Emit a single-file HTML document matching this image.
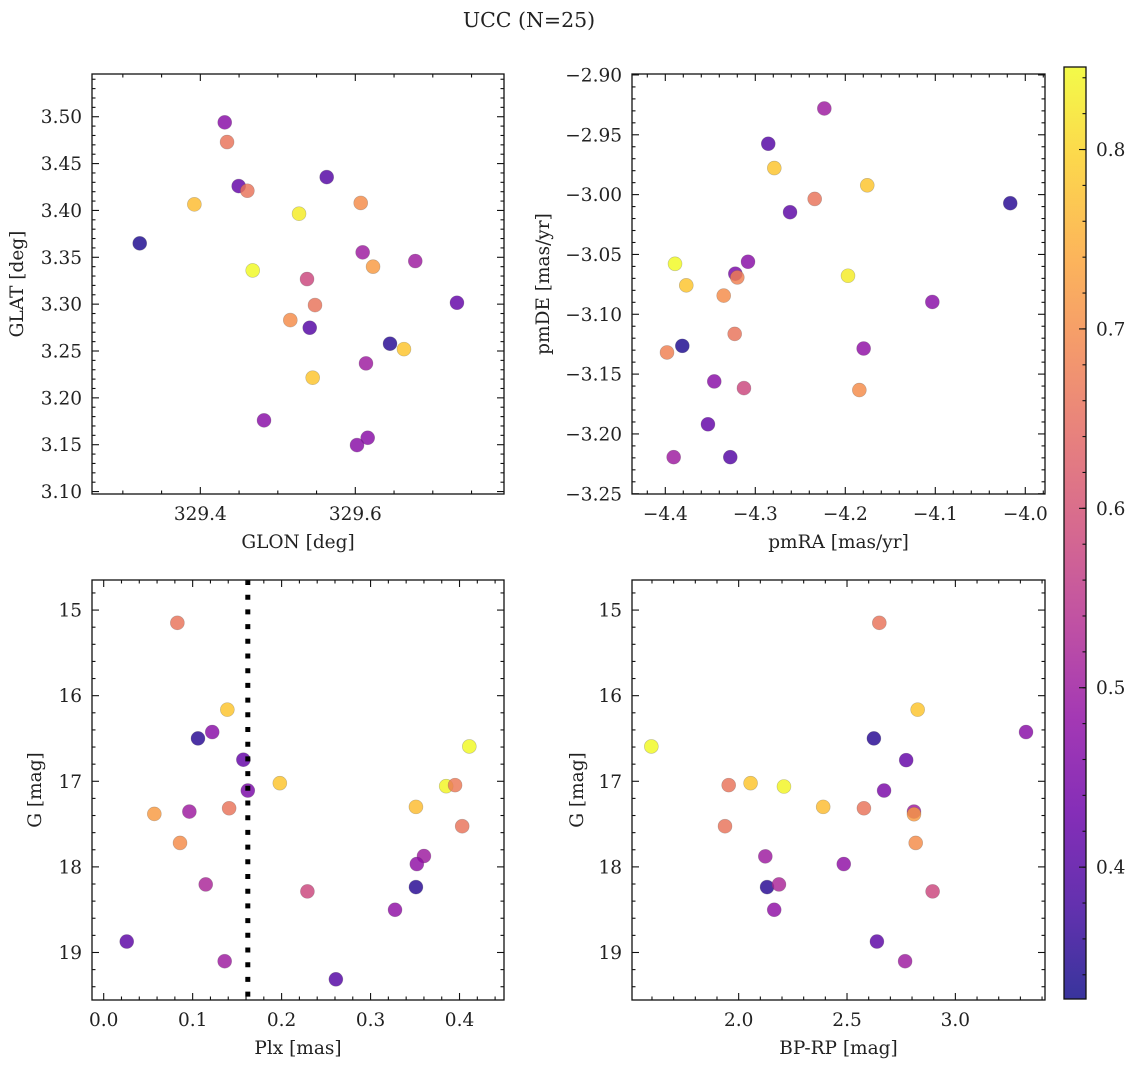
<!DOCTYPE html>
<html><head><meta charset="utf-8"><style>
html,body{margin:0;padding:0;background:#fff;}
svg{display:block;font-family:"DejaVu Serif","Liberation Serif",serif;}
</style></head><body>
<svg id="fig" width="1136" height="1067" viewBox="0 0 1136 1067" xmlns="http://www.w3.org/2000/svg">
<rect width="1136" height="1067" fill="#fff"/>
<text x="529" y="27" font-size="20.5" text-anchor="middle" fill="#222">UCC (N=25)</text>
</svg>
<script>
// ---- data ----
const glonValues = [329.4315,329.4345,329.4495,329.4607,329.3923,329.5631,329.607,329.5274,329.3218,329.4676,329.6095,329.6229,329.6774,329.5377,329.548,329.7312,329.5161,329.5412,329.6448,329.6628,329.6138,329.545,329.4822,329.616,329.6022];
const glatValues = [3.494,3.473,3.426,3.421,3.4065,3.4356,3.408,3.3965,3.3649,3.336,3.3553,3.340,3.346,3.3268,3.299,3.3015,3.283,3.2748,3.2578,3.252,3.2368,3.2215,3.176,3.1574,3.1496];
const posColors = [0.47,0.66,0.42,0.66,0.77,0.40,0.70,0.83,0.34,0.85,0.50,0.72,0.50,0.58,0.66,0.42,0.70,0.40,0.35,0.78,0.50,0.78,0.47,0.47,0.47];

const pmraValues = [-4.2233,-4.2856,-4.2789,-4.1756,-4.234,-4.0167,-4.2614,-4.3892,-4.3081,-4.3222,-4.32,-4.197,-4.3767,-4.3351,-4.1033,-4.3229,-4.3811,-4.3981,-4.1796,-4.3456,-4.3126,-4.1844,-4.3526,-4.3907,-4.3278];
const pmdeValues = [-2.928,-2.9575,-2.9778,-2.9922,-3.0036,-3.0072,-3.0147,-3.0578,-3.0561,-3.0661,-3.0692,-3.0678,-3.0758,-3.0844,-3.0897,-3.1164,-3.1264,-3.1319,-3.1286,-3.1561,-3.1617,-3.1633,-3.1919,-3.2194,-3.2194];
const pmColors = [0.50,0.40,0.78,0.78,0.66,0.35,0.41,0.85,0.47,0.45,0.68,0.83,0.78,0.70,0.47,0.66,0.34,0.68,0.48,0.47,0.58,0.70,0.42,0.50,0.40];

const plxValues = [0.0828,0.139,0.106,0.122,0.157,0.162,0.198,0.411,0.385,0.395,0.351,0.403,0.0569,0.0963,0.141,0.0858,0.360,0.352,0.351,0.1147,0.229,0.3275,0.0259,0.136,0.261];
const gPlxValues = [15.149,16.163,16.499,16.425,16.748,17.108,17.022,16.593,17.057,17.045,17.299,17.525,17.381,17.354,17.315,17.72,17.873,17.967,18.236,18.205,18.286,18.501,18.872,19.102,19.313];
const plxColors = [0.66,0.78,0.35,0.47,0.42,0.45,0.78,0.85,0.84,0.67,0.77,0.66,0.72,0.50,0.66,0.70,0.50,0.48,0.35,0.52,0.58,0.48,0.41,0.50,0.40];
const plxCut = [0.162];

const bprpValues = [2.649,2.826,2.624,3.326,2.773,2.671,1.597,1.954,2.055,2.209,2.390,2.578,2.809,2.809,1.937,2.817,2.123,2.485,2.131,2.186,2.895,2.164,2.638,2.768];
const gCmdValues = [15.149,16.163,16.499,16.425,16.753,17.108,16.593,17.045,17.022,17.061,17.299,17.315,17.354,17.385,17.525,17.72,17.877,17.967,18.236,18.205,18.286,18.501,18.872,19.102];
const cmdColors = [0.66,0.78,0.35,0.47,0.42,0.45,0.85,0.66,0.78,0.84,0.77,0.66,0.50,0.72,0.66,0.70,0.50,0.48,0.35,0.52,0.58,0.48,0.41,0.50];

const cbarTicks = [0.4,0.5,0.6,0.7,0.8];
const cbarRange = [0.3265,0.846];

// ---- rendering ----
const NS="http://www.w3.org/2000/svg";
const svg=document.getElementById('fig');
function mk(tag,attrs,parent){const e=document.createElementNS(NS,tag);for(const k in attrs)e.setAttribute(k,attrs[k]);(parent||svg).appendChild(e);return e;}
const plasma=[[13,8,135],[65,4,157],[106,0,168],[143,13,164],[177,42,144],[204,71,120],[225,100,98],[242,132,75],[252,166,54],[252,206,37],[240,249,33]];
function cmap(v){let t=(v-cbarRange[0])/(cbarRange[1]-cbarRange[0]);t=Math.max(0,Math.min(1,t))*10;const i=Math.min(9,Math.floor(t)),f=t-i;const a=plasma[i],b=plasma[i+1];return 'rgb('+a.map((x,k)=>Math.round(x+(b[k]-x)*f)).join(',')+')';}
function fmt(v,d){const s=Math.abs(v).toFixed(d);return (v<-1e-9?'\u2212':'')+s;}
const FS=18.5;

function panel(o){
  const g=mk('g',{});
  
  
  const sx=v=>o.x0+(v-o.xl[0])/(o.xl[1]-o.xl[0])*(o.x1-o.x0);
  const sy=v=>o.y1-(v-o.yl[0])/(o.yl[1]-o.yl[0])*(o.y1-o.y0);
  const clip='clip-'+o.name;
  const cp=mk('clipPath',{id:clip},g);mk('rect',{x:o.x0,y:o.y0,width:o.x1-o.x0,height:o.y1-o.y0},cp);
  const pts=mk('g',{'clip-path':'url(#'+clip+')'},g);
  
  
  for(let i=0;i<o.xs.length;i++){
    const c=mk('circle',{cx:sx(o.xs[i]),cy:sy(o.ys[i]),r:7,fill:cmap(o.cs[i]),'fill-opacity':0.82,stroke:'#555','stroke-opacity':0.35,'stroke-width':0.6},pts);
    
    
  }
  if(o.vline){for(const v of o.vline){const l=mk('line',{x1:sx(v),x2:sx(v),y1:o.y0,y2:o.y1,stroke:'#000','stroke-width':5,'stroke-dasharray':'5 9.7'},g);
    
    }}
  mk('rect',{x:o.x0,y:o.y0,width:o.x1-o.x0,height:o.y1-o.y0,fill:'none',stroke:'#111','stroke-width':1.3},g);
  const tk=mk('g',{stroke:'#111','stroke-width':1.1},g);
  const xl=[Math.min(...o.xl),Math.max(...o.xl)], yl=[Math.min(...o.yl),Math.max(...o.yl)];
  for(let k=Math.ceil(xl[0]/o.xmin-1e-6);k*o.xmin<=xl[1]+1e-9;k++){
    const v=k*o.xmin,px=sx(v);const maj=Math.abs(v/o.xmaj-Math.round(v/o.xmaj))<1e-6;const L=maj?7:3.5;
    mk('line',{x1:px,x2:px,y1:o.y1,y2:o.y1-L},tk);mk('line',{x1:px,x2:px,y1:o.y0,y2:o.y0+L},tk);
    if(maj){const t=mk('text',{x:px,y:o.y1+26,'font-size':FS,'text-anchor':'middle',fill:'#222'},g);t.textContent=fmt(v,o.xd);
      
      }
  }
  for(let k=Math.ceil(yl[0]/o.ymin-1e-6);k*o.ymin<=yl[1]+1e-9;k++){
    const v=k*o.ymin,py=sy(v);const maj=Math.abs(v/o.ymaj-Math.round(v/o.ymaj))<1e-6;const L=maj?7:3.5;
    mk('line',{y1:py,y2:py,x1:o.x0,x2:o.x0+L},tk);mk('line',{y1:py,y2:py,x1:o.x1,x2:o.x1-L},tk);
    if(maj){const t=mk('text',{x:o.x0-10,y:py+6.5,'font-size':FS,'text-anchor':'end',fill:'#222'},g);t.textContent=fmt(v,o.yd);
      
      }
  }
  const xt=mk('text',{x:(o.x0+o.x1)/2,y:o.y1+54,'font-size':FS,'text-anchor':'middle',fill:'#222'},g);xt.textContent=o.xlab;
  
  
  const yt=mk('text',{x:0,y:0,'font-size':FS,'text-anchor':'middle',fill:'#222',transform:'translate('+o.ylx+','+(o.y0+o.y1)/2+') rotate(-90)'},g);yt.textContent=o.ylab;
  
  
}

panel({name:'position-panel',x0:92,x1:504,y0:74,y1:494,xl:[329.2602,329.7919],yl:[3.0974,3.5456],xs:glonValues,ys:glatValues,cs:posColors,xmaj:0.2,xmin:0.05,ymaj:0.05,ymin:0.01,xd:1,yd:2,xlab:'GLON [deg]',ylab:'GLAT [deg]',ylx:23});
panel({name:'proper-motion-panel',x0:632,x1:1045,y0:74,y1:494,xl:[-4.4370,-3.9781],yl:[-3.2502,-2.8992],xs:pmraValues,ys:pmdeValues,cs:pmColors,xmaj:0.1,xmin:0.02,ymaj:0.05,ymin:0.01,xd:1,yd:2,xlab:'pmRA [mas/yr]',ylab:'pmDE [mas/yr]',ylx:549});
panel({name:'parallax-panel',x0:92,x1:504,y0:580,y1:1000,xl:[-0.01315,0.4500],yl:[19.5550,14.6487],xs:plxValues,ys:gPlxValues,cs:plxColors,vline:plxCut,xmaj:0.1,xmin:0.02,ymaj:1,ymin:0.2,xd:1,yd:0,xlab:'Plx [mas]',ylab:'G [mag]',ylx:41});
panel({name:'cmd-panel',x0:632,x1:1045,y0:580,y1:1000,xl:[1.5078,3.4136],yl:[19.5550,14.6487],xs:bprpValues,ys:gCmdValues,cs:cmdColors,xmaj:0.5,xmin:0.1,ymaj:1,ymin:0.2,xd:1,yd:0,xlab:'BP-RP [mag]',ylab:'G [mag]',ylx:583});

// colorbar
(function(){
  const x0=1064,x1=1086,y0=67,y1=999;
  const g=mk('g',{});
  
  
  const defs=mk('defs',{},g);
  const lg=mk('linearGradient',{id:'cbg',x1:0,y1:1,x2:0,y2:0},defs);
  for(let i=0;i<=10;i++){mk('stop',{offset:(i*10)+'%','stop-color':'rgb('+plasma[i].join(',')+')','stop-opacity':0.82},lg);}
  mk('rect',{x:x0,y:y0,width:x1-x0,height:y1-y0,fill:'url(#cbg)',stroke:'#111','stroke-width':1.3},g);
  const sy=v=>y1-(v-cbarRange[0])/(cbarRange[1]-cbarRange[0])*(y1-y0);
  for(let k=Math.ceil(cbarRange[0]/0.02);k*0.02<=cbarRange[1];k++){
    const py=sy(k*0.02);mk('line',{x1:x1,x2:x1-3.5,y1:py,y2:py,stroke:'#111','stroke-width':1.1},g);}
  for(const v of cbarTicks){const py=sy(v);mk('line',{x1:x1,x2:x1-7,y1:py,y2:py,stroke:'#111','stroke-width':1.1},g);
    const t=mk('text',{x:x1+10,y:py+6.5,'font-size':FS,fill:'#222'},g);t.textContent=v.toFixed(1);
    
    }
})();
</script>
</body></html>
